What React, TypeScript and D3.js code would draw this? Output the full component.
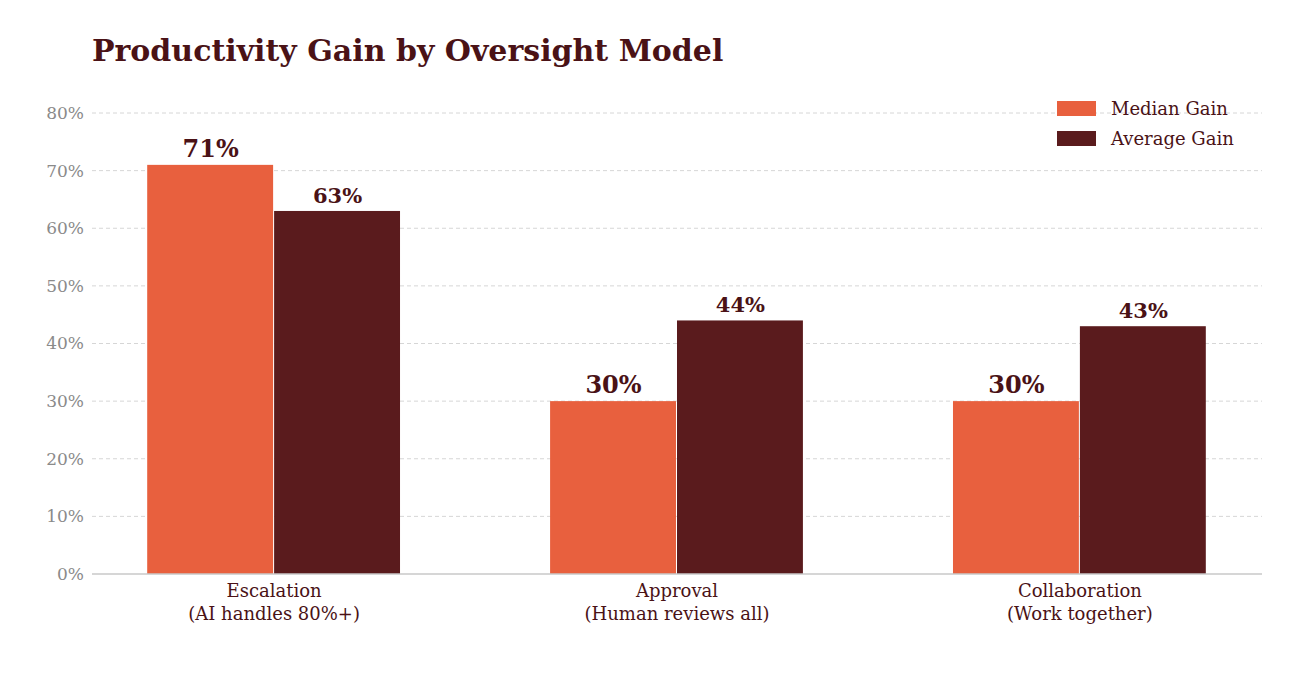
import React from 'react';
import * as d3 from 'd3';

const categories = ['Escalation\n(AI handles 80%+)', 'Approval\n(Human reviews all)', 'Collaboration\n(Work together)'];
const medianGain = [71, 30, 30];
const averageGain = [63, 44, 43];
const yTicks = [0, 10, 20, 30, 40, 50, 60, 70, 80];
const seriesNames = ['Median Gain', 'Average Gain'];

const W = 1294;
const H = 673;
const M = { left: 92, right: 1262, top: 113, bottom: 574 };
const colors = ['#e8603e', '#5a1b1d'];
const dark = '#4a1216';
const font = '"DejaVu Serif", serif';

const App: React.FC = () => {
  const x = d3.scaleBand<number>()
    .domain(d3.range(categories.length))
    .range([M.left, M.right])
    .paddingInner(0.37)
    .paddingOuter(0.137);
  const y = d3.scaleLinear().domain([0, 80]).range([M.bottom, M.top]);
  const bw = x.bandwidth() / 2;
  const series = [medianGain, averageGain];

  return (
    <svg width={W} height={H} style={{ display: 'block', margin: -8, background: '#fff' }} fontFamily={font}>
      <text x={92} y={61} fontSize={30} fontWeight="bold" fill={dark}>Productivity Gain by Oversight Model</text>
      {yTicks.map((t) => (
        <g key={t}>
          {t > 0 && (
            <line x1={M.left} x2={M.right} y1={y(t)} y2={y(t)} stroke="#d6d6d6" strokeDasharray="4,3" />
          )}
          <text x={M.left - 8} y={y(t)} dy="0.35em" textAnchor="end" fontSize={17} fill="#8a8a8a">{t}%</text>
        </g>
      ))}
      {categories.map((c, i) => (
        <g key={c}>
          {series.map((s, j) => {
            const bx = (x(i) as number) + j * bw;
            return (
              <g key={j}>
                <rect x={bx} y={y(s[i])} width={bw - 1} height={y(0) - y(s[i])} fill={colors[j]} />
                <text x={bx + bw / 2} y={y(s[i]) - 8} textAnchor="middle"
                  fontSize={j === 0 ? 24 : 21} fontWeight="bold" fill={dark}>{s[i]}%</text>
              </g>
            );
          })}
          {c.split('\n').map((l, k) => (
            <text key={k} x={(x(i) as number) + x.bandwidth() / 2} y={597 + k * 23}
              textAnchor="middle" fontSize={18} fill={dark}>{l}</text>
          ))}
        </g>
      ))}
      <line x1={M.left} x2={M.right} y1={M.bottom} y2={M.bottom} stroke="#c8c8c8" strokeWidth={1.5} />
      {seriesNames.map((n, j) => (
        <g key={n} transform={`translate(1057,${101 + j * 30})`}>
          <rect width={39} height={15} fill={colors[j]} />
          <text x={54} y={8} dy="0.35em" fontSize={18} fill={dark}>{n}</text>
        </g>
      ))}
    </svg>
  );
};

export default App;
